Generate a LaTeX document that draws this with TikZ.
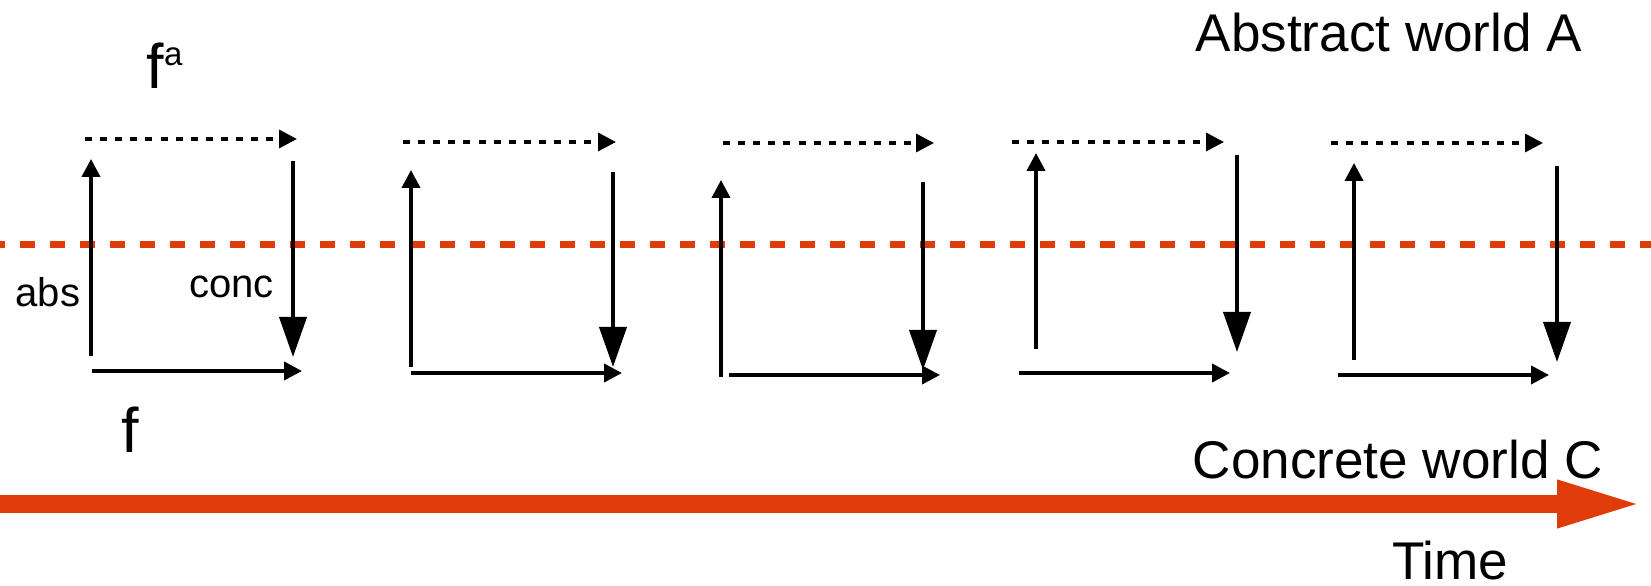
\documentclass[tikz,border=0pt]{standalone}
\usepackage{fontspec}
\setmainfont{Liberation Sans}
\usetikzlibrary{arrows.meta}
\definecolor{timered}{HTML}{E03C0A}
\tikzset{
    fn/.style={line width=1.1pt, -{Triangle[length=0.18cm,width=0.18cm]}},
    fna/.style={line width=0.95pt, dash pattern=on 2pt off 2.3pt, -{Triangle[length=0.18cm,width=0.18cm]}},
    concarrow/.style={line width=1.1pt, -{Triangle[length=0.40cm,width=0.27cm]}},
    world/.style={inner sep=0pt, font=\fontsize{15.1}{18}\selectfont},
    fname/.style={inner sep=0pt, font=\fontsize{17.9}{21}\selectfont},
    mapname/.style={inner sep=0pt, font=\fontsize{11.4}{14}\selectfont}
}
\begin{document}
\begin{tikzpicture}
    \useasboundingbox (0,0) rectangle (16.51,5.86);
    % border between the two worlds
    \coordinate (b0) at (0,3.41);
    \coordinate (b1) at (16.51,3.41);
    \draw[timered, line width=0.07cm, dash pattern=on 0.15cm off 0.15cm, dash phase=0.1cm] (b0) -- (b1);
    % the time axis
    \coordinate (t0) at (0,0.82);
    \coordinate (t1) at (16.43,0.82);
    \draw[timered, line width=0.18cm, -{Triangle[length=0.86cm,width=0.43cm]}] (t0) -- (t1);
    % one square per step
    \foreach \i/\ax/\ab/\at/\cx/\ct/\cb/\dy/\dl/\dr/\fy/\fl/\fr in {
        1/0.91/2.30/4.27/2.93/4.25/2.29/4.47/0.85/2.97/2.15/0.92/3.02,
        2/4.11/2.19/4.16/6.13/4.14/2.19/4.44/4.03/6.16/2.13/4.11/6.22,
        3/7.21/2.09/4.06/9.23/4.04/2.16/4.43/7.23/9.34/2.11/7.29/9.40,
        4/10.36/2.37/4.33/12.37/4.31/2.34/4.44/10.12/12.24/2.13/10.19/12.30,
        5/13.54/2.26/4.23/15.57/4.20/2.24/4.43/13.31/15.43/2.11/13.38/15.49}
    {
        \coordinate (ab\i) at (\ax,\ab);
        \coordinate (at\i) at (\ax,\at);
        \coordinate (ct\i) at (\cx,\ct);
        \coordinate (cb\i) at (\cx,\cb);
        \coordinate (dl\i) at (\dl,\dy);
        \coordinate (dr\i) at (\dr,\dy);
        \coordinate (fl\i) at (\fl,\fy);
        \coordinate (fr\i) at (\fr,\fy);
        \draw[fn] (ab\i) -- (at\i);
        \draw[fna] (dl\i) -- (dr\i);
        \draw[concarrow] (ct\i) -- (cb\i);
        \draw[fn] (fl\i) -- (fr\i);
    }
    % labels
    \node[world, anchor=base west] (abstract) at (11.95,5.34) {Abstract world A};
    \node[world, anchor=base west] (concrete) at (11.92,1.07) {Concrete world C};
    \node[world, anchor=base] (time) at (14.50,0.06) {Time};
    \node[fname, anchor=base west] (fa) at (1.46,4.97) {f\raisebox{6.8pt}{\fontsize{9.4}{11}\selectfont a}};
    \node[fname, anchor=base west] (f) at (1.21,1.33) {f};
    \node[mapname, anchor=base west] (abs) at (0.15,2.79) {abs};
    \node[mapname, anchor=base west] (conc) at (1.885,2.88) {conc};
\end{tikzpicture}
\end{document}
